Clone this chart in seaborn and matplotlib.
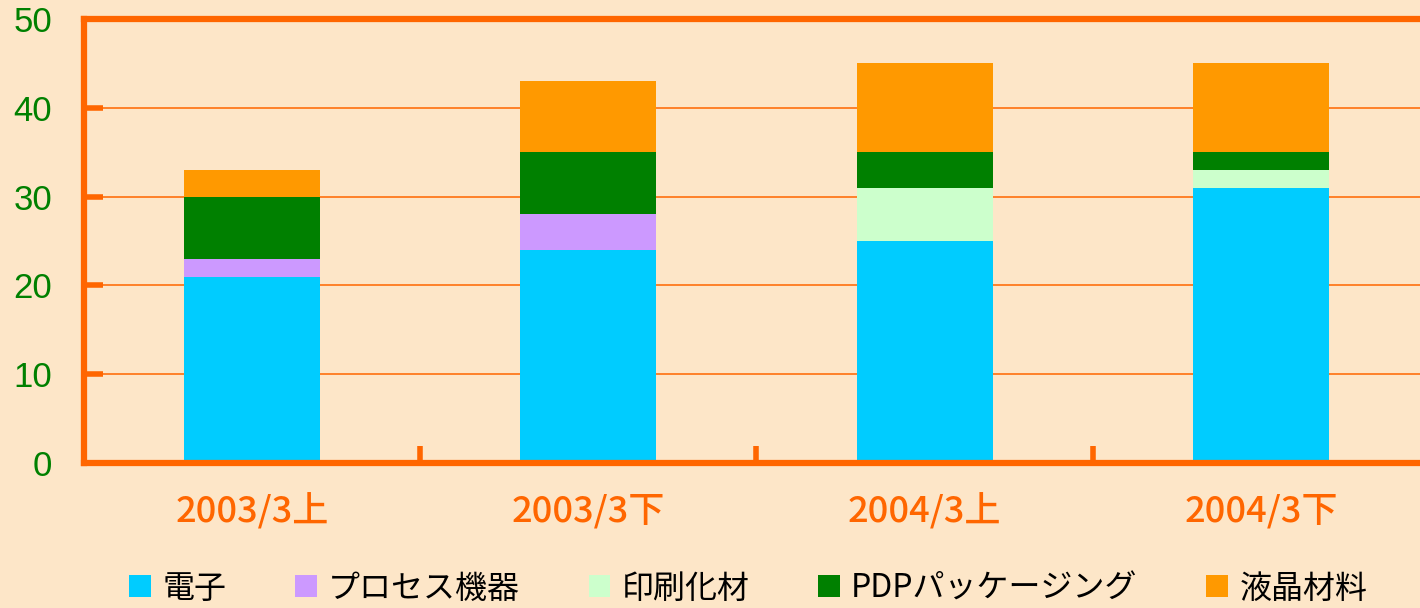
import matplotlib
matplotlib.use('Agg')
import matplotlib.pyplot as plt
import seaborn as sns
import pandas as pd
from matplotlib.patches import Patch

# データ
periods = ['2003/3上', '2003/3下', '2004/3上', '2004/3下']
denshi = [21, 24, 25, 31]          # 電子
process = [2, 4, 0, 0]             # プロセス機器
insatsu = [0, 0, 6, 2]             # 印刷化材
pdp = [7, 7, 4, 2]                 # PDPパッケージング
ekisho = [3, 8, 10, 10]            # 液晶材料

series_names = ['電子', 'プロセス機器', '印刷化材', 'PDPパッケージング', '液晶材料']
series_vals = [denshi, process, insatsu, pdp, ekisho]
colors = ['#00CCFF', '#CC99FF', '#CCFFCC', '#008000', '#FF9900']

sns.set_style('white')
plt.rcParams['font.family'] = ['Noto Sans CJK JP', 'DejaVu Sans']

spine_c = '#FF6600'
bg = '#FDE6C8'

fig = plt.figure(figsize=(14.2, 6.08), dpi=100, facecolor=bg)
ax = fig.add_axes([84/1420, 1-463/608, 1345/1420, 444/608])
ax.set_facecolor(bg)

# 積み上げ棒
bottom = [0, 0, 0, 0]
for name, vals, c in zip(series_names, series_vals, colors):
    df = pd.DataFrame({'period': periods, 'value': vals})
    sns.barplot(data=df, x='period', y='value', order=periods, color=c,
                bottom=bottom, width=0.405, ax=ax, saturation=1,
                linewidth=0, edgecolor='none', zorder=3)
    bottom = [b + v for b, v in zip(bottom, vals)]

ax.set_xlim(-0.5, 3.5)
ax.set_ylim(0, 50)
ax.set_yticks(range(0, 51, 10))
ax.set_xlabel('')
ax.set_ylabel('')

# グリッド
for yv in range(10, 50, 10):
    ax.axhline(yv, color=spine_c, lw=1.3, alpha=0.85, zorder=1)

for s in ax.spines.values():
    s.set_color(spine_c)
    s.set_linewidth(4.5)
    s.set_zorder(4)

ax.tick_params(axis='y', direction='in', length=14, width=4, color=spine_c,
               labelsize=25, labelcolor='#008000', pad=23, left=True)
for lab in ax.get_yticklabels():
    lab.set_family(['Liberation Sans', 'DejaVu Sans'])

ax.set_xticks([0.5, 1.5, 2.5], minor=True)
ax.tick_params(axis='x', which='minor', direction='in', length=12, width=4,
               color=spine_c, bottom=True)
ax.tick_params(axis='x', which='major', length=0, pad=22, labelsize=26,
               labelcolor=spine_c)
for lab in ax.get_xticklabels():
    lab.set_fontweight('medium')

handles = [Patch(facecolor=c, edgecolor='none') for c in colors]
fig.legend(handles, series_names, loc='center', bbox_to_anchor=(0.527, 0.032),
           ncol=5, frameon=False, fontsize=23, handlelength=0.68, handleheight=0.68,
           handletextpad=0.35, columnspacing=2.15, borderpad=0.1,
           labelcolor='black')

fig.savefig('out.png', dpi=100, facecolor=bg)
